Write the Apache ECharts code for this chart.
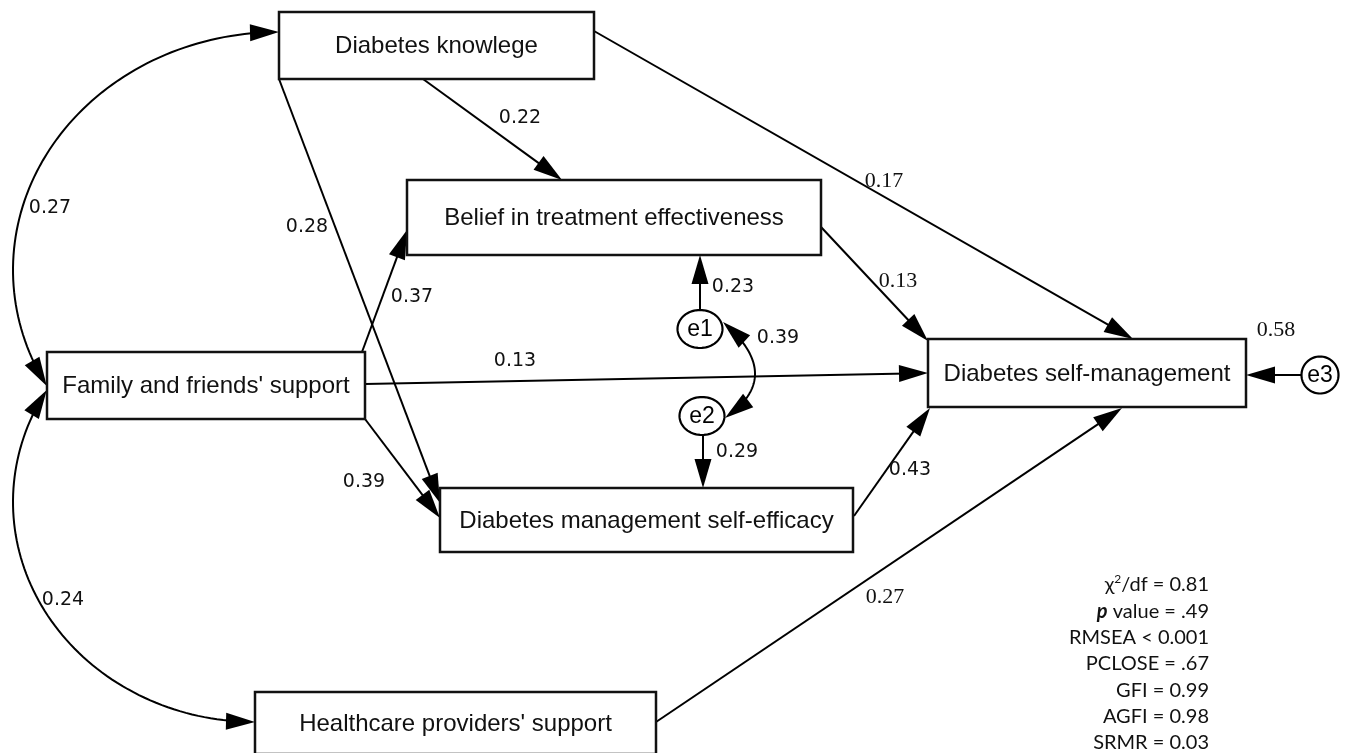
<!DOCTYPE html>
<html><head><meta charset="utf-8">
<script src="https://cdn.jsdelivr.net/npm/echarts@6/dist/echarts.min.js"></script>
<style>html,body{margin:0;padding:0;background:#fff}#c{width:1351px;height:753px}</style>
</head><body><div id="c"></div>
<script>
// ---------------- DATA ----------------
const nodeKeys   = ['know', 'belief', 'family', 'dsm', 'dmse', 'health'];
const nodeLabels = ['Diabetes knowlege', 'Belief in treatment effectiveness', "Family and friends' support",
                    'Diabetes self-management', 'Diabetes management self-efficacy', "Healthcare providers' support"];
const errorKeys  = ['e1', 'e2', 'e3'];
const pathFrom = ['know', 'know', 'know', 'family', 'family', 'family', 'belief', 'dmse', 'health', 'e1', 'e2', 'e3'];
const pathTo   = ['belief', 'dsm', 'dmse', 'belief', 'dsm', 'dmse', 'dsm', 'dsm', 'dsm', 'belief', 'dmse', 'dsm'];
const pathCoef = ['0.22', '0.17', '0.28', '0.37', '0.13', '0.39', '0.13', '0.43', '0.27', '0.23', '0.29', ''];
const covFrom  = ['know', 'family', 'e1'];
const covTo    = ['family', 'health', 'e2'];
const covCoef  = ['0.27', '0.24', '0.39'];
const r2Node   = ['dsm'];
const r2Value  = ['0.58'];
const fitNames = ['χ2/df', 'p value', 'RMSEA', 'PCLOSE', 'GFI', 'AGFI', 'SRMR'];
const fitOps   = ['=', '=', '<', '=', '=', '=', '='];
const fitValues = ['0.81', '.49', '0.001', '.67', '0.99', '0.98', '0.03'];

// ---------------- LAYOUT (diagram coordinates) ----------------
const boxPos = {
  know:   [279, 12, 594, 79],
  belief: [407, 180, 821, 255],
  family: [47, 352, 365, 419],
  dsm:    [928, 339, 1246, 407],
  dmse:   [440, 488, 853, 552],
  health: [255, 692, 656, 754]
};
const ellPos = { e1: [700, 329, 22.5, 19], e2: [702, 416, 22.5, 19], e3: [1320, 375, 18.5, 18.5] };
const pathGeom = [
  [423, 79, 562, 180],
  [594, 31, 1133, 339],
  [279, 79, 440, 503],
  [362, 352, 407, 230],
  [365, 384, 928, 373],
  [365, 419, 440, 518],
  [821, 227, 928, 341],
  [854, 516, 930, 408],
  [656, 722, 1122, 408],
  [700, 310, 700, 255],
  [703, 435, 703, 488],
  [1301, 375, 1246, 375]
];
const pathLabelPos = [
  [520, 118, 's'], [884, 181, 'r'], [307, 227, 's'], [412, 297, 's'], [515, 361, 's'], [364, 482, 's'],
  [898, 281, 'r'], [910, 470, 's'], [885, 597, 'r'], [733, 287, 's'], [737, 452, 's'], [0, 0, 's']
];
const covGeom = [
  ['e', 279, 270, 266, 238, -Math.PI / 2, -3.651],
  ['e', 255, 502, 242, 220, -2.607, -3 * Math.PI / 2],
  ['q', 723, 322, 786, 376, 725, 418]
];
const covLabelPos = [[50, 208], [63, 600], [778, 338]];
const r2LabelPos = [[1276, 330]];
const fitRightX = 1209, fitTopY = 585, fitStep = 26.3;

const BOX_FONT = { fontSize: 24, fontFamily: '"Liberation Sans", Arial, sans-serif' };
const SANS_NUM = { fontSize: 19, fontFamily: '"DejaVu Sans", Verdana, sans-serif' };
const SERIF_NUM = { fontSize: 22, fontFamily: '"Liberation Serif", "Times New Roman", serif' };
const HEAD = 29, HW = 8.5, LW = 2;

// ---------------- helpers ----------------
function headPts(tip, from) {
  const dx = tip[0] - from[0], dy = tip[1] - from[1], d = Math.hypot(dx, dy);
  const ux = dx / d, uy = dy / d;
  const bx = tip[0] - ux * HEAD, by = tip[1] - uy * HEAD;
  return [[tip[0], tip[1]], [bx - uy * HW, by + ux * HW], [bx + uy * HW, by - ux * HW]];
}
function curvePts(g) {
  const pts = [], N = 80;
  for (let k = 0; k <= N; k++) {
    const t = k / N;
    if (g[0] === 'e') {
      const a = g[5] + (g[6] - g[5]) * t;
      pts.push([g[1] + g[3] * Math.cos(a), g[2] + g[4] * Math.sin(a)]);
    } else {
      const u = 1 - t;
      pts.push([u * u * g[1] + 2 * u * t * g[3] + t * t * g[5], u * u * g[2] + 2 * u * t * g[4] + t * t * g[6]]);
    }
  }
  return pts;
}
function trimIdx(pts, fromStart) {
  const end = fromStart ? pts[0] : pts[pts.length - 1];
  if (fromStart) {
    for (let i = 0; i < pts.length; i++) if (Math.hypot(pts[i][0] - end[0], pts[i][1] - end[1]) >= HEAD * 0.7) return i;
  } else {
    for (let i = pts.length - 1; i >= 0; i--) if (Math.hypot(pts[i][0] - end[0], pts[i][1] - end[1]) >= HEAD * 0.7) return i;
  }
  return 0;
}
function tangentFrom(pts, atStart) {
  const end = atStart ? pts[0] : pts[pts.length - 1];
  const seq = atStart ? pts : pts.slice().reverse();
  for (const p of seq) if (Math.hypot(p[0] - end[0], p[1] - end[1]) >= 10) return p;
  return seq[seq.length - 1];
}

const chart = echarts.init(document.getElementById('c'), null, { renderer: 'canvas' });

chart.setOption({
  animation: false,
  backgroundColor: '#fff',
  grid: { left: 0, right: 0, top: 0, bottom: 0 },
  xAxis: { type: 'value', min: 0, max: 1351, show: false },
  yAxis: { type: 'value', min: 0, max: 753, inverse: true, show: false },
  series: [
    {
      type: 'custom', name: 'paths', coordinateSystem: 'cartesian2d', silent: true,
      data: pathCoef.map((c, i) => [i, 0]),
      renderItem(params, api) {
        const g = pathGeom[params.dataIndex];
        const a = api.coord([g[0], g[1]]), b = api.coord([g[2], g[3]]);
        const dx = b[0] - a[0], dy = b[1] - a[1], d = Math.hypot(dx, dy);
        const e = [b[0] - dx / d * HEAD * 0.7, b[1] - dy / d * HEAD * 0.7];
        return { type: 'group', children: [
          { type: 'line', shape: { x1: a[0], y1: a[1], x2: e[0], y2: e[1] }, style: { stroke: '#000', lineWidth: LW } },
          { type: 'polygon', shape: { points: headPts(b, a) }, style: { fill: '#000' } }
        ] };
      }
    },
    {
      type: 'custom', name: 'covariances', coordinateSystem: 'cartesian2d', silent: true,
      data: covCoef.map((c, i) => [i, 0]),
      renderItem(params, api) {
        const pts = curvePts(covGeom[params.dataIndex]).map(p => api.coord(p));
        const i0 = trimIdx(pts, true), i1 = trimIdx(pts, false);
        return { type: 'group', children: [
          { type: 'polyline', shape: { points: pts.slice(i0, i1 + 1) }, style: { stroke: '#000', lineWidth: LW, fill: null } },
          { type: 'polygon', shape: { points: headPts(pts[0], tangentFrom(pts, true)) }, style: { fill: '#000' } },
          { type: 'polygon', shape: { points: headPts(pts[pts.length - 1], tangentFrom(pts, false)) }, style: { fill: '#000' } }
        ] };
      }
    },
    {
      type: 'custom', name: 'variables', coordinateSystem: 'cartesian2d', silent: true,
      data: nodeKeys.map((k, i) => [i, 0]),
      renderItem(params, api) {
        const i = params.dataIndex, b = boxPos[nodeKeys[i]];
        const p0 = api.coord([b[0], b[1]]), p1 = api.coord([b[2], b[3]]);
        const cy = nodeKeys[i] === 'health' ? p0[1] + 31 : (p0[1] + p1[1]) / 2;
        return { type: 'group', children: [
          { type: 'rect', shape: { x: p0[0], y: p0[1], width: p1[0] - p0[0], height: p1[1] - p0[1] },
            style: { fill: '#fff', stroke: '#111', lineWidth: 2.5 } },
          { type: 'text', x: (p0[0] + p1[0]) / 2, y: cy + 1,
            style: Object.assign({ text: nodeLabels[i], fill: '#111', align: 'center', verticalAlign: 'middle' }, BOX_FONT) }
        ] };
      }
    },
    {
      type: 'custom', name: 'errors', coordinateSystem: 'cartesian2d', silent: true,
      data: errorKeys.map((k, i) => [i, 0]),
      renderItem(params, api) {
        const k = errorKeys[params.dataIndex], e = ellPos[k];
        const pts = [];
        for (let j = 0; j < 72; j++) {
          const a = j / 72 * Math.PI * 2;
          pts.push(api.coord([e[0] + e[2] * Math.cos(a), e[1] + e[3] * Math.sin(a)]));
        }
        const c = api.coord([e[0], e[1]]);
        return { type: 'group', children: [
          { type: 'polygon', shape: { points: pts }, style: { fill: '#fff', stroke: '#000', lineWidth: 2.2 } },
          { type: 'text', x: c[0], y: c[1] + 1, style: { text: k, fontSize: 23, fontFamily: '"Liberation Sans", Arial, sans-serif', fill: '#000', align: 'center', verticalAlign: 'middle' } }
        ] };
      }
    },
    {
      type: 'custom', name: 'coefficients', coordinateSystem: 'cartesian2d', silent: true,
      data: pathCoef.map((c, i) => [i, 0]).concat(covCoef.map((c, i) => [100 + i, 0])).concat(r2Value.map((c, i) => [200 + i, 0])),
      renderItem(params, api) {
        const i = params.dataIndex;
        let txt, pos, font;
        if (i < pathCoef.length) {
          txt = pathCoef[i]; pos = pathLabelPos[i]; font = pos[2] === 'r' ? SERIF_NUM : SANS_NUM;
        } else if (i < pathCoef.length + covCoef.length) {
          const j = i - pathCoef.length; txt = covCoef[j]; pos = covLabelPos[j]; font = SANS_NUM;
        } else {
          const j = i - pathCoef.length - covCoef.length; txt = r2Value[j]; pos = r2LabelPos[j]; font = SERIF_NUM;
        }
        if (!txt) return null;
        const p = api.coord([pos[0], pos[1]]);
        return { type: 'text', x: p[0], y: p[1], style: Object.assign({ text: txt, fill: '#111', align: 'center', verticalAlign: 'middle' }, font) };
      }
    },
    {
      type: 'custom', name: 'fit', coordinateSystem: 'cartesian2d', silent: true,
      data: fitNames.map((n, i) => [i, 0]),
      renderItem(params, api) {
        const i = params.dataIndex;
        const p = api.coord([fitRightX, fitTopY + i * fitStep]);
        let text;
        const name = fitNames[i];
        if (name === 'χ2/df') text = '{n|χ}{s|2}{n|/df ' + fitOps[i] + ' ' + fitValues[i] + '}';
        else if (name === 'p value') text = '{i|p}{n| value ' + fitOps[i] + ' ' + fitValues[i] + '}';
        else text = '{n|' + name + ' ' + fitOps[i] + ' ' + fitValues[i] + '}';
        const fam = 'Lato, "Open Sans", sans-serif';
        return { type: 'text', x: p[0], y: p[1], style: {
          text: text, align: 'right', verticalAlign: 'middle', fill: '#111',
          rich: {
            n: { fontFamily: fam, fontSize: 20, lineHeight: 24, fill: '#111' },
            i: { fontFamily: fam, fontSize: 20, fontStyle: 'italic', fontWeight: 'bold', lineHeight: 24, fill: '#111' },
            s: { fontFamily: fam, fontSize: 12, lineHeight: 24, verticalAlign: 'top', fill: '#111' }
          }
        } };
      }
    }
  ]
});
</script></body></html>
